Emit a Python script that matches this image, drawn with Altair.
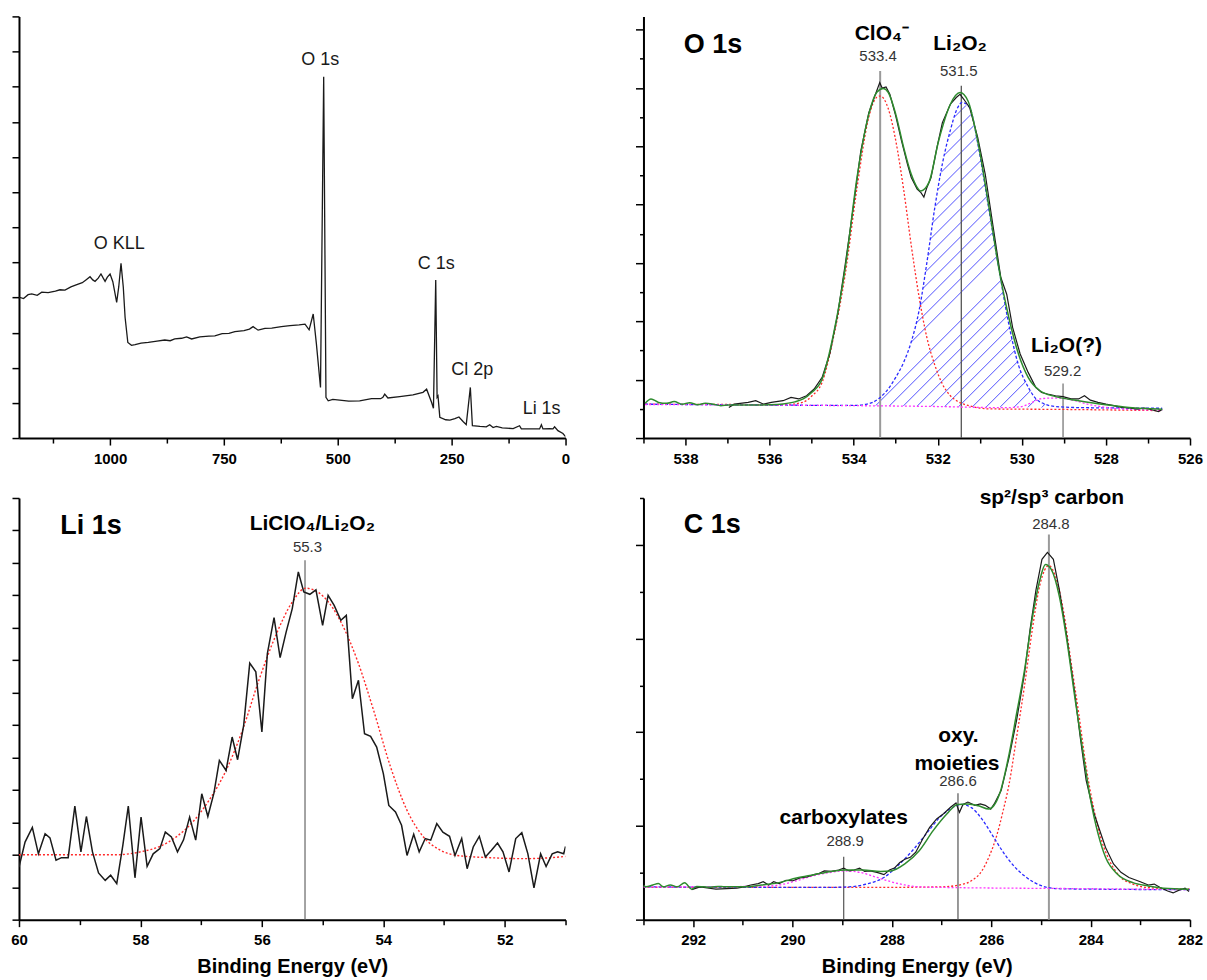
import altair as alt
import numpy as np
import pandas as pd

FONT = "Liberation Sans"
W = 547
H = 422

# ---------------- Survey spectrum (top-left) ----------------
survey_be = [1200, 1198, 1190, 1180, 1172, 1160, 1150, 1136, 1120, 1110, 1099, 1086, 1076, 1070, 1061, 1053,
             1044, 1038, 1033, 1026, 1020, 1015, 1011, 1006, 1000, 994, 985.5, 981, 976, 971, 967, 961, 953,
             945, 932, 916, 897, 880, 868, 858, 843, 832, 821, 803, 783, 770, 754, 739, 726, 706, 694, 686,
             675, 660, 645, 624, 605, 585, 572, 563, 554, 547, 538, 531, 526, 521, 511, 496, 476, 452, 426,
             406, 401, 397, 390, 364, 335, 313, 305, 294, 290, 285, 282, 280, 276, 263, 254, 243, 234, 225,
             218, 209, 204.5, 188, 174, 166.5, 159, 152, 139, 115, 101, 97, 79, 57, 53, 49.6, 35, 27.6, 24,
             16.7, 5.7, 0]
survey_int = [3.98, 4.00, 3.97, 4.08, 4.10, 4.06, 4.15, 4.14, 4.18, 4.22, 4.21, 4.30, 4.35, 4.38, 4.42, 4.50,
              4.59, 4.50, 4.46, 4.55, 4.67, 4.55, 4.46, 4.58, 4.67, 4.45, 3.86, 4.30, 4.97, 4.30, 3.43, 2.72, 2.64,
              2.66, 2.70, 2.72, 2.76, 2.79, 2.77, 2.82, 2.84, 2.88, 2.82, 2.88, 2.90, 2.91, 2.97, 2.98, 3.03, 3.06,
              3.10, 3.17, 3.07, 3.12, 3.13, 3.17, 3.20, 3.22, 3.24, 3.08, 3.53, 2.68, 1.44, 10.28, 1.16, 1.06, 1.10,
              1.08, 1.05, 1.06, 1.12, 1.12, 1.16, 1.25, 1.14, 1.18, 1.23, 1.30, 1.39, 1.01, 0.85, 4.50, 1.16, 1.20,
              0.59, 0.52, 0.51, 0.55, 0.60, 0.47, 0.38, 1.44, 0.35, 0.33, 0.32, 0.38, 0.30, 0.33, 0.29, 0.27, 0.35,
              0.26, 0.26, 0.26, 0.38, 0.26, 0.27, 0.26, 0.32, 0.21, 0.13, 0.04]
survey_labels = ["O KLL", "O 1s", "C 1s", "Cl 2p", "Li 1s"]
survey_label_be = [979.7, 538.7, 284.0, 204.8, 52.5]
survey_label_int = [5.38, 10.62, 4.81, 1.78, 0.69]

# ---------------- O 1s (top-right) ----------------
o1s_raw = [(536.97, 1.05), (536.84, 1.16), (536.51, 1.22), (536.33, 1.28), (536.14, 1.16), (535.96, 1.22),
           (535.68, 1.28), (535.49, 1.39), (535.31, 1.34), (535.12, 1.45), (534.94, 1.68), (534.75, 2.08),
           (534.57, 2.88), (534.38, 4.25), (534.20, 5.96), (534.01, 7.90), (533.83, 9.84), (533.64, 11.15),
           (533.51, 11.67), (533.38, 12.18), (533.32, 11.99), (533.23, 12.03), (533.14, 11.78), (533.00, 11.04),
           (532.86, 10.18), (532.72, 9.38), (532.63, 8.93), (532.49, 8.53), (532.40, 8.41), (532.33, 8.26),
           (532.26, 8.58), (532.16, 8.93), (532.02, 9.95), (531.89, 10.81), (531.70, 11.44), (531.56, 11.67),
           (531.47, 11.78), (531.38, 11.61), (531.24, 11.32), (531.05, 10.30), (530.87, 9.04), (530.68, 7.21),
           (530.50, 5.50), (530.36, 4.93), (530.22, 3.79), (530.04, 2.88), (529.85, 2.25), (529.67, 1.74),
           (529.53, 1.56), (529.39, 1.51), (529.20, 1.45), (529.02, 1.42), (528.83, 1.34), (528.65, 1.34),
           (528.51, 1.45), (528.37, 1.30), (528.19, 1.22), (528.00, 1.16), (527.82, 1.11), (527.63, 1.05),
           (527.45, 1.03), (527.26, 0.99), (527.08, 1.03), (526.89, 0.96), (526.75, 0.91), (526.66, 0.98)]
o1s_fit = [(538.96, 1.19), (538.82, 1.34), (538.64, 1.22), (538.45, 1.19), (538.27, 1.25), (538.08, 1.16),
           (537.90, 1.21), (537.71, 1.14), (537.53, 1.19), (537.34, 1.16), (537.16, 1.11), (536.97, 1.13),
           (536.50, 1.13), (536.00, 1.14), (535.68, 1.17), (535.40, 1.24), (535.20, 1.34), (535.00, 1.56),
           (534.75, 2.02), (534.48, 3.56), (534.20, 5.84), (533.92, 8.93), (533.64, 11.10), (533.45, 11.85),
           (533.30, 11.98), (533.18, 11.85), (533.00, 11.10), (532.81, 9.95), (532.63, 9.04), (532.40, 8.47),
           (532.21, 8.76), (531.98, 10.18), (531.70, 11.44), (531.47, 11.84), (531.28, 11.55), (531.05, 10.18),
           (530.78, 7.90), (530.55, 5.84), (530.31, 4.13), (530.08, 2.88), (529.85, 2.08), (529.57, 1.62),
           (529.20, 1.42), (528.65, 1.28), (528.00, 1.14), (527.45, 1.05), (526.66, 0.99)]
o1s_clo4 = [(538.96, 1.16), (537.00, 1.15), (535.68, 1.14), (535.22, 1.22), (534.99, 1.45), (534.75, 1.91),
            (534.48, 3.45), (534.20, 5.62), (533.92, 8.58), (533.64, 11.00), (533.45, 11.68), (533.37, 11.72),
            (533.18, 11.30), (533.00, 10.20), (532.81, 8.50), (532.63, 6.60), (532.44, 4.80), (532.26, 3.45),
            (532.07, 2.50), (531.89, 1.85), (531.70, 1.45), (531.52, 1.25), (531.24, 1.10), (530.78, 1.00),
            (529.00, 0.98), (526.66, 0.94)]
o1s_li2o2 = [(538.96, 1.16), (536.00, 1.13), (534.50, 1.12), (533.92, 1.12), (533.74, 1.15), (533.55, 1.22),
             (533.37, 1.39), (533.18, 1.68), (533.00, 2.08), (532.81, 2.60), (532.63, 3.30), (532.44, 4.40),
             (532.26, 6.00), (532.07, 7.90), (531.89, 9.40), (531.70, 10.55), (531.55, 11.25), (531.42, 11.50),
             (531.24, 11.32), (531.05, 10.10), (530.78, 7.80), (530.54, 5.75), (530.31, 3.90), (530.08, 2.50),
             (529.85, 1.75), (529.67, 1.35), (529.48, 1.18), (529.20, 1.08), (528.50, 1.04), (527.50, 1.03),
             (526.66, 1.02)]
o1s_li2o = [(538.96, 1.15), (535.00, 1.12), (532.00, 1.08), (530.40, 1.04), (530.04, 1.07), (529.76, 1.22),
            (529.57, 1.34), (529.30, 1.37), (529.02, 1.36), (528.74, 1.28), (528.37, 1.14), (528.00, 1.05),
            (527.54, 0.99), (526.66, 0.96)]
o1s_hatch_be = [533.92, 533.74, 533.55, 533.37, 533.18, 533.00, 532.81, 532.63, 532.44, 532.26, 532.07, 531.89,
                531.70, 531.55, 531.42, 531.24, 531.05, 530.78, 530.54, 530.31, 530.08, 529.85, 529.67, 529.48,
                529.20]
o1s_hatch_top = [1.12, 1.15, 1.22, 1.39, 1.68, 2.08, 2.60, 3.30, 4.40, 6.00, 7.90, 9.40, 10.55, 11.25, 11.50,
                 11.32, 10.10, 7.80, 5.75, 3.90, 2.50, 1.75, 1.35, 1.18, 1.08]
o1s_hatch_base = [1.12, 1.12, 1.11, 1.11, 1.10, 1.10, 1.10, 1.09, 1.09, 1.09, 1.08, 1.08, 1.08, 1.07, 1.07,
                  1.07, 1.06, 1.06, 1.06, 1.05, 1.05, 1.05, 1.04, 1.04, 1.04]
o1s_line_be = [533.37, 531.44, 529.02]
o1s_line_top = [12.58, 12.07, 1.87]
o1s_names = ["ClO\u2084\u207b", "Li\u2082O\u2082", "Li\u2082O(?)"]
o1s_name_be = [533.33, 531.47, 528.94]
o1s_name_int = [13.64, 13.29, 2.94]
o1s_values = ["533.4", "531.5", "529.2"]
o1s_value_be = [533.42, 531.50, 529.03]
o1s_value_int = [12.93, 12.40, 2.14]

# ---------------- Li 1s (bottom-left) ----------------
li1s_raw = [(60.00, 1.62), (59.90, 2.39), (59.78, 2.84), (59.68, 2.03), (59.57, 2.65), (59.49, 2.52),
            (59.39, 1.83), (59.30, 1.91), (59.19, 1.91), (59.08, 3.50), (58.98, 2.09), (58.89, 3.18),
            (58.79, 2.09), (58.69, 1.44), (58.58, 1.21), (58.49, 1.37), (58.39, 1.11), (58.29, 2.29),
            (58.20, 3.50), (58.09, 1.29), (57.99, 3.16), (57.89, 1.64), (57.79, 2.03), (57.68, 2.19),
            (57.59, 2.70), (57.49, 2.55), (57.39, 2.09), (57.29, 2.46), (57.19, 3.16), (57.09, 2.45),
            (56.99, 3.88), (56.89, 3.18), (56.79, 3.90), (56.70, 4.91), (56.59, 4.60), (56.49, 5.63),
            (56.40, 4.93), (56.30, 5.99), (56.20, 7.91), (56.10, 7.64), (56.00, 5.79), (55.91, 8.20),
            (55.80, 9.31), (55.70, 8.08), (55.60, 8.87), (55.50, 9.59), (55.40, 10.72), (55.31, 10.10),
            (55.21, 10.03), (55.11, 10.17), (55.00, 9.07), (54.91, 10.00), (54.81, 9.69), (54.70, 9.23),
            (54.61, 9.38), (54.51, 6.81), (54.41, 7.38), (54.31, 5.73), (54.21, 5.65), (54.11, 5.32),
            (54.00, 4.50), (53.91, 3.52), (53.80, 3.32), (53.70, 2.91), (53.61, 1.98), (53.50, 2.63),
            (53.41, 2.09), (53.31, 2.50), (53.22, 2.45), (53.12, 2.96), (53.02, 2.70), (52.91, 2.57),
            (52.82, 1.98), (52.71, 2.50), (52.62, 1.57), (52.52, 2.24), (52.42, 2.57), (52.32, 1.93),
            (52.22, 2.14), (52.12, 2.36), (52.03, 2.09), (51.93, 1.47), (51.82, 2.50), (51.72, 2.68),
            (51.62, 2.03), (51.52, 0.98), (51.41, 2.03), (51.32, 1.64), (51.22, 2.03), (51.13, 2.09),
            (51.03, 2.03), (51.00, 2.26)]
li1s_fit = [(60.00, 2.00), (59.00, 2.00), (58.39, 2.00), (58.00, 2.09), (57.68, 2.26), (57.41, 2.55),
            (57.14, 3.01), (56.87, 3.68), (56.59, 4.60), (56.32, 5.84), (56.05, 7.38), (55.77, 8.77),
            (55.50, 9.79), (55.28, 10.22), (54.98, 9.95), (54.70, 9.18), (54.43, 8.00), (54.16, 6.45),
            (53.88, 4.70), (53.61, 3.37), (53.34, 2.55), (53.06, 2.14), (52.79, 1.98), (52.24, 1.91),
            (51.70, 1.88), (51.32, 1.90), (51.00, 1.95)]
li1s_line_be = [55.29]
li1s_line_top = [11.08]
li1s_names = ["LiClO\u2084/Li\u2082O\u2082"]
li1s_name_be = [55.17]
li1s_name_int = [12.0]
li1s_values = ["55.3"]
li1s_value_be = [55.25]
li1s_value_int = [11.35]

# ---------------- C 1s (bottom-right) ----------------
c1s_raw = [(292.03, 0.64), (291.86, 0.70), (291.68, 0.67), (291.54, 0.65), (291.33, 0.66), (291.12, 0.67),
           (290.98, 0.70), (290.84, 0.74), (290.69, 0.77), (290.59, 0.81), (290.48, 0.74), (290.38, 0.81),
           (290.27, 0.77), (290.13, 0.84), (289.99, 0.83), (289.85, 0.89), (289.71, 0.91), (289.57, 0.96),
           (289.46, 0.99), (289.36, 1.04), (289.22, 1.03), (289.07, 1.06), (288.97, 1.10), (288.86, 1.04),
           (288.76, 1.06), (288.65, 1.10), (288.55, 1.03), (288.44, 1.04), (288.30, 1.01), (288.16, 0.96),
           (288.05, 1.06), (287.95, 1.10), (287.84, 1.22), (287.74, 1.29), (287.63, 1.33), (287.52, 1.44),
           (287.38, 1.72), (287.24, 1.97), (287.10, 2.15), (286.96, 2.26), (286.82, 2.40), (286.71, 2.49),
           (286.64, 2.29), (286.57, 2.46), (286.47, 2.51), (286.33, 2.44), (286.22, 2.47), (286.12, 2.44),
           (286.01, 2.36), (285.94, 2.47), (285.80, 2.76), (285.64, 3.47), (285.49, 4.26), (285.33, 5.26),
           (285.22, 6.19), (285.10, 7.04), (284.98, 7.69), (284.87, 7.84), (284.75, 7.69), (284.63, 7.04),
           (284.48, 6.04), (284.32, 4.83), (284.21, 3.90), (284.09, 2.97), (283.93, 2.26), (283.70, 1.54),
           (283.54, 1.19), (283.39, 1.01), (283.23, 0.90), (283.00, 0.81), (282.84, 0.74), (282.72, 0.76),
           (282.61, 0.69), (282.45, 0.61), (282.34, 0.57), (282.22, 0.63), (282.10, 0.67), (282.02, 0.60)]
c1s_fit = [(293.00, 0.73), (292.95, 0.70), (292.81, 0.74), (292.70, 0.77), (292.60, 0.70), (292.46, 0.74),
           (292.32, 0.70), (292.17, 0.79), (292.03, 0.65), (291.93, 0.71), (291.79, 0.70), (291.65, 0.69),
           (291.50, 0.71), (291.37, 0.70), (291.19, 0.70), (290.98, 0.70), (290.62, 0.74), (290.27, 0.79),
           (289.92, 0.89), (289.57, 0.96), (289.22, 1.03), (288.93, 1.06), (288.58, 1.06), (288.23, 1.03),
           (288.02, 1.04), (287.74, 1.19), (287.45, 1.47), (287.17, 1.90), (286.89, 2.26), (286.68, 2.46),
           (286.47, 2.47), (286.26, 2.43), (286.05, 2.36), (285.83, 2.69), (285.64, 3.54), (285.49, 4.40),
           (285.33, 5.33), (285.18, 6.40), (285.02, 7.26), (284.91, 7.58), (284.79, 7.47), (284.63, 6.90),
           (284.48, 5.97), (284.32, 4.76), (284.17, 3.69), (284.01, 2.61), (283.85, 1.83), (283.70, 1.33),
           (283.46, 0.97), (283.15, 0.79), (282.84, 0.72), (282.53, 0.67), (282.02, 0.65)]
c1s_sp2 = [(293.00, 0.69), (288.00, 0.69), (287.00, 0.70), (286.60, 0.75), (286.40, 0.83), (286.19, 1.04),
           (286.05, 1.33), (285.90, 1.76), (285.76, 2.33), (285.64, 2.90), (285.49, 3.90), (285.33, 5.00),
           (285.18, 6.15), (285.02, 7.15), (284.84, 7.56), (284.71, 7.33), (284.55, 6.61), (284.40, 5.54),
           (284.24, 4.40), (284.09, 3.26), (283.93, 2.33), (283.78, 1.69), (283.62, 1.26), (283.39, 0.90),
           (283.15, 0.76), (282.80, 0.68), (282.00, 0.65)]
c1s_oxy = [(293.00, 0.70), (290.00, 0.69), (289.22, 0.69), (288.86, 0.70), (288.51, 0.76), (288.16, 0.90),
           (287.88, 1.15), (287.59, 1.47), (287.31, 1.83), (287.03, 2.19), (286.75, 2.41), (286.61, 2.46),
           (286.40, 2.39), (286.19, 2.15), (285.97, 1.79), (285.76, 1.44), (285.55, 1.15), (285.34, 0.94),
           (285.13, 0.79), (284.92, 0.70), (284.64, 0.66), (283.93, 0.65), (282.00, 0.64)]
c1s_carbox = [(293.00, 0.70), (290.62, 0.71), (290.27, 0.74), (289.92, 0.83), (289.57, 0.94), (289.22, 1.01),
              (288.97, 1.04), (288.65, 1.01), (288.30, 0.90), (288.02, 0.81), (287.74, 0.74), (287.45, 0.70),
              (287.10, 0.69), (284.00, 0.66), (282.00, 0.64)]
c1s_line_be = [284.84, 286.67, 288.97]
c1s_line_top = [8.22, 2.70, 1.34]
c1s_names = ["sp\u00b2/sp\u00b3 carbon", "oxy.", "moieties", "carboxylates"]
c1s_name_be = [284.78, 286.66, 286.69, 288.97]
c1s_name_int = [8.87, 3.79, 3.20, 2.05]
c1s_values = ["284.8", "286.6", "288.9"]
c1s_value_be = [284.80, 286.67, 288.94]
c1s_value_int = [8.34, 2.85, 1.57]

# ---------------- colours ----------------
BLACK = "#1a1a1a"
GREEN = "#2e8b2e"
RED = "#ff2a2a"
BLUE = "#2a2aff"
MAGENTA = "#ff33ff"
HATCH = "#5050ff"


def pairs_df(pairs):
    return pd.DataFrame({"be": [p[0] for p in pairs], "v": [p[1] for p in pairs], "i": list(range(len(pairs)))})


def x_axis(values, major, title=None):
    kw = dict(values=values, format="d",
              labelExpr=f"datum.value % {major} === 0 ? datum.label : ''",
              labelFont=FONT, labelFontSize=15, labelFontWeight="bold", labelColor="black",
              labelPadding=6, labelOverlap=False, labelFlush=False,
              tickSize={"condition": {"test": f"datum.value % {major} === 0", "value": 7}, "value": 5},
              tickColor="black", tickWidth=1.5, domainColor="black", domainWidth=2, grid=False)
    if title:
        kw.update(title=title, titleFont=FONT, titleFontSize=20, titleFontWeight="bold",
                  titleColor="black", titlePadding=9)
    else:
        kw["title"] = None
    return alt.Axis(**kw)


def y_axis(values, major):
    if major:
        ts = {"condition": {"test": f"datum.value % {major} === 0", "value": 8}, "value": 4}
    else:
        ts = 7
    return alt.Axis(values=values, labels=False, title=None, tickSize=ts, tickColor="black",
                    tickWidth=1.5, domainColor="black", domainWidth=2, grid=False)


class Panel:
    def __init__(self, xdom, ydom, xa, ya):
        self.xs = alt.Scale(domain=xdom, reverse=True, nice=False, zero=False)
        self.ys = alt.Scale(domain=ydom, nice=False, zero=False)
        self.xa = xa
        self.ya = ya
        self.layers = []

    def X(self, f="be"):
        return alt.X(f"{f}:Q", scale=self.xs, axis=self.xa)

    def Y(self, f="v"):
        return alt.Y(f"{f}:Q", scale=self.ys, axis=self.ya)

    def line(self, data, color, width, dash=None, interp="linear"):
        kw = dict(color=color, strokeWidth=width, interpolate=interp, clip=True)
        if dash:
            kw["strokeDash"] = dash
        self.layers.append(alt.Chart(data).mark_line(**kw).encode(x=self.X(), y=self.Y(), order="i:Q"))

    def rules(self, be, top, color, width):
        d = pd.DataFrame({"be": be, "v": [0.0] * len(be), "v2": top})
        self.layers.append(alt.Chart(d).mark_rule(color=color, strokeWidth=width).encode(
            x=self.X(), y=self.Y(), y2="v2:Q"))

    def segments(self, d, color, width):
        self.layers.append(alt.Chart(d).mark_rule(color=color, strokeWidth=width).encode(
            x=self.X("e1"), y=self.Y("v1"), x2="e2:Q", y2="v2:Q"))

    def text(self, be, v, t, size, weight="normal", color="black", align="center"):
        d = pd.DataFrame({"be": be, "v": v, "t": t})
        self.layers.append(alt.Chart(d).mark_text(
            font=FONT, fontSize=size, fontWeight=weight, color=color, align=align,
            baseline="alphabetic").encode(x=self.X(), y=self.Y(), text="t:N"))

    def chart(self):
        return alt.layer(*self.layers).properties(width=W, height=H)


# ---------------- top-left: survey ----------------
tl = Panel([0, 1200], [0, 12], x_axis(list(range(0, 1126, 125)), 250), y_axis(list(range(0, 13)), None))
tl.line(pd.DataFrame({"be": survey_be, "v": survey_int, "i": list(range(len(survey_be)))}), BLACK, 1.3)
tl.text(survey_label_be, survey_label_int, survey_labels, 18, color="#1a1a1a")

# ---------------- top-right: O 1s ----------------
tr = Panel([526, 539], [0, 14.45], x_axis(list(range(526, 540)), 2), y_axis(list(range(0, 15)), 2))

# diagonal hatching of the Li2O2 component: 45-degree lines clipped to the area
# between the component curve and its baseline (derived from the lists above)
X0 = 539.0
pe = W / 13.0
pu = H / 14.45
hx = np.array([(X0 - e) * pe for e in o1s_hatch_be])
htop = np.array(o1s_hatch_top) * pu
hbase = np.array(o1s_hatch_base) * pu
grid = np.arange(hx[0], hx[-1], 0.2)
top_i = np.interp(grid, hx, htop)
base_i = np.interp(grid, hx, hbase)
seg_rows = []
for c in np.arange(hbase.min() - hx[-1], htop.max() - hx[0], 14.0):
    inside = ((grid + c) >= base_i) & ((grid + c) <= top_i)
    idx = np.nonzero(inside)[0]
    if len(idx) < 4:
        continue
    i0 = idx[0]
    i1 = i0
    while i1 + 1 < len(grid) and inside[i1 + 1]:
        i1 += 1
    if i1 - i0 < 4:
        continue
    seg_rows.append({"e1": X0 - grid[i0] / pe, "v1": (grid[i0] + c) / pu,
                     "e2": X0 - grid[i1] / pe, "v2": (grid[i1] + c) / pu})
tr.segments(pd.DataFrame(seg_rows), HATCH, 1)

tr.rules([o1s_line_be[0]], [o1s_line_top[0]], "#9a9a9a", 2)
tr.rules([o1s_line_be[1]], [o1s_line_top[1]], "#555555", 1.3)
tr.rules([o1s_line_be[2]], [o1s_line_top[2]], "#8a8a8a", 1.5)
tr.line(pairs_df(o1s_clo4), RED, 1.3, [2, 2], "monotone")
tr.line(pairs_df(o1s_li2o2), BLUE, 1.3, [3, 2], "monotone")
tr.line(pairs_df(o1s_li2o), MAGENTA, 1.3, [2, 2], "monotone")
tr.line(pairs_df(o1s_raw), BLACK, 1.2)
tr.line(pairs_df(o1s_fit), GREEN, 1.5, None, "monotone")
tr.text([538.04], [13.18], ["O 1s"], 27, "bold", align="left")
tr.text(o1s_name_be, o1s_name_int, o1s_names, 21, "bold")
tr.text(o1s_value_be, o1s_value_int, o1s_values, 15, color="#333333")

# ---------------- bottom-left: Li 1s ----------------
bl = Panel([51, 60], [0, 13], x_axis(list(range(51, 61)), 2, "Binding Energy (eV)"),
           y_axis(list(range(0, 14)), None))
bl.rules(li1s_line_be, li1s_line_top, "#666666", 1.2)
bl.line(pairs_df(li1s_fit), RED, 1.4, [2, 2], "monotone")
bl.line(pairs_df(li1s_raw), BLACK, 1.5)
bl.text([59.32], [11.9], ["Li 1s"], 27, "bold", align="left")
bl.text(li1s_name_be, li1s_name_int, li1s_names, 21, "bold")
bl.text(li1s_value_be, li1s_value_int, li1s_values, 15, color="#333333")

# ---------------- bottom-right: C 1s ----------------
br = Panel([282, 293], [0, 9], x_axis(list(range(282, 294)), 2, "Binding Energy (eV)"),
           y_axis(list(range(0, 10)), 2))
br.rules([c1s_line_be[0]], [c1s_line_top[0]], "#9a9a9a", 2)
br.rules(c1s_line_be[1:], c1s_line_top[1:], "#555555", 1.2)
br.line(pairs_df(c1s_sp2), RED, 1.3, [2, 2], "monotone")
br.line(pairs_df(c1s_oxy), BLUE, 1.3, [3, 2], "monotone")
br.line(pairs_df(c1s_carbox), MAGENTA, 1.3, [2, 2], "monotone")
br.line(pairs_df(c1s_raw), BLACK, 1.2)
br.line(pairs_df(c1s_fit), GREEN, 1.5, None, "monotone")
br.text([292.19], [8.25], ["C 1s"], 27, "bold", align="left")
br.text(c1s_name_be, c1s_name_int, c1s_names, 21, "bold")
br.text(c1s_value_be, c1s_value_int, c1s_values, 15, color="#333333")

chart = alt.concat(tl.chart(), tr.chart(), bl.chart(), br.chart(), columns=2,
                   spacing={"row": 60, "column": 78}, bounds="flush").properties(
    padding={"left": 10, "top": 15, "right": 4, "bottom": 2},
    background="white",
).configure_view(strokeWidth=0)

chart.save("out.html", embed_options={"renderer": "svg", "actions": False})
